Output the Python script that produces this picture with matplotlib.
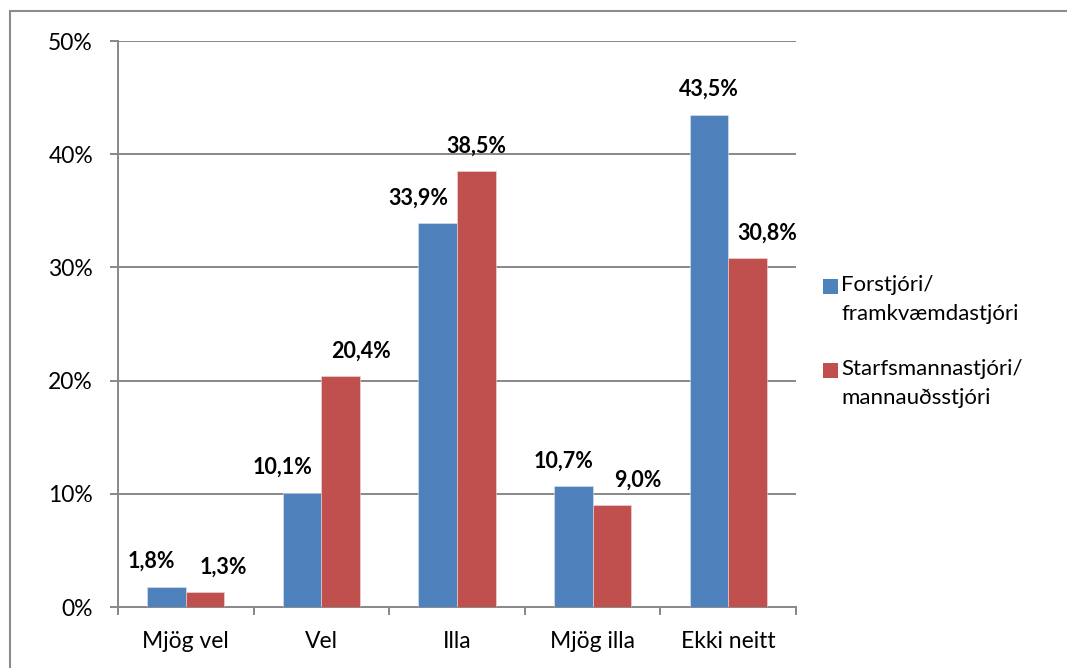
import matplotlib.pyplot as plt
import matplotlib.patches as mpatches
import numpy as np

plt.rcParams['font.family'] = ['Lato', 'DejaVu Sans']

# Data
categories = ['Mjög vel', 'Vel', 'Illa', 'Mjög illa', 'Ekki neitt']
series_names = ['Forstjóri/\nframkvæmdastjóri', 'Starfsmannastjóri/\nmannauðsstjóri']
forstjori = [1.8, 10.1, 33.9, 10.7, 43.5]
starfsmannastjori = [1.3, 20.4, 38.5, 9.0, 30.8]
y_ticks = [0, 10, 20, 30, 40, 50]

# Style
blue = '#4F81BD'
red = '#C0504D'
grid_gray = '#888888'
bar_w = 0.284
# horizontal nudges of the value labels (pixels), as placed in the original
blue_dx = [-15, -20, -19, -10, 0]
red_dx = [18, 20, 0, 26, 20]

W, H = 1067, 668
fig = plt.figure(figsize=(W / 100, H / 100), dpi=100)
ax = fig.add_axes([118 / W, 1 - 607 / H, (796 - 118) / W, (607 - 41) / H])

x = np.arange(len(categories))
b1 = ax.bar(x - bar_w / 2, forstjori, bar_w, color=blue, edgecolor='#dfe6f0',
            linewidth=0.4, zorder=3)
b2 = ax.bar(x + bar_w / 2, starfsmannastjori, bar_w, color=red, edgecolor='#f0dcdc',
            linewidth=0.4, zorder=3)

for bars, vals, dxs in [(b1, forstjori, blue_dx), (b2, starfsmannastjori, red_dx)]:
    for rect, v, dx in zip(bars, vals, dxs):
        ax.annotate(f'{v:.1f}%'.replace('.', ','),
                    (rect.get_x() + rect.get_width() / 2, rect.get_height()),
                    xytext=(dx, 25), textcoords='offset pixels',
                    ha='center', va='center', fontsize=15.5, fontweight='bold',
                    color='black', zorder=4)

ax.set_xlim(-0.5, len(categories) - 0.5)
ax.set_ylim(0, 50)
ax.set_yticks(y_ticks)
ax.set_yticklabels([f'{t}%' for t in y_ticks])
ax.yaxis.grid(True, color=grid_gray, linewidth=1.4, zorder=0)
ax.set_axisbelow(True)

ax.set_xticks(x)
ax.set_xticklabels(categories)
ax.set_xticks(np.arange(len(categories) + 1) - 0.5, minor=True)
ax.tick_params(axis='x', which='major', length=0, pad=17, labelsize=16.5)
ax.tick_params(axis='x', which='minor', length=6, width=1.4, color=grid_gray, direction='out')
ax.tick_params(axis='y', length=6, width=1.4, color=grid_gray, pad=12, labelsize=16.5)

for side in ['top', 'right']:
    ax.spines[side].set_visible(False)
for side in ['left', 'bottom']:
    ax.spines[side].set_color(grid_gray)
    ax.spines[side].set_linewidth(1.4)

# legend, swatch beside the first line of each two-line label
for name, col, top in [(series_names[0], blue, 279), (series_names[1], red, 363)]:
    fig.patches.append(mpatches.Rectangle((823 / W, 1 - (top + 14.5) / H), 14.5 / W, 14.5 / H,
                                          transform=fig.transFigure, facecolor=col,
                                          edgecolor='none'))
    fig.text(841 / W, 1 - (top - 4) / H, name, ha='left', va='top',
             fontsize=16, linespacing=1.55)

# outer chart frame
frame = mpatches.Rectangle((9.5 / W, -0.2), 1.3, 1.2 - 10.5 / H,
                           transform=fig.transFigure, fill=False,
                           edgecolor='#8c8c8c', linewidth=1.5)
fig.patches.append(frame)

fig.savefig('out.png', dpi=100)
